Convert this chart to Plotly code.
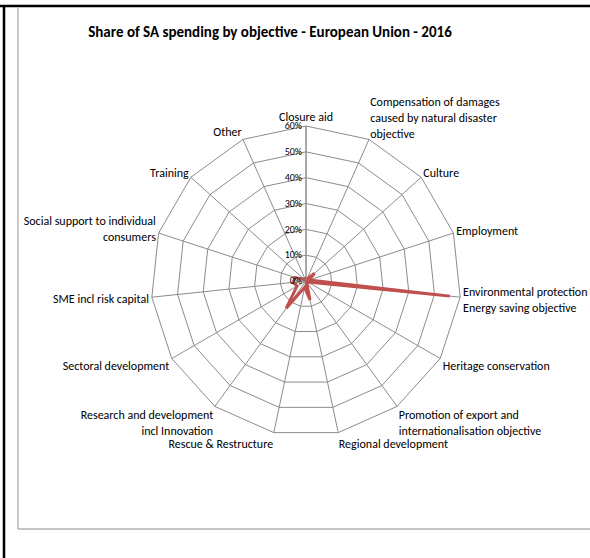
import plotly.graph_objects as go

categories = [
    "Closure aid",
    "Compensation of damages<br>caused by natural disaster<br>objective",
    "Culture",
    "Employment",
    "Environmental protection incl<br>Energy saving objective",
    "Heritage conservation",
    "Promotion of export and<br>internationalisation objective",
    "Regional development",
    "Rescue & Restructure",
    "Research and development<br>incl Innovation",
    "Sectoral development",
    "SME incl risk capital",
    "Social support to individual<br>consumers",
    "Training",
    "Other",
]
shares = [0.003, 0.008, 0.045, 0.012, 0.56, 0.008, 0.003, 0.075, 0.025, 0.13,
          0.04, 0.05, 0.045, 0.008, 0.015]
radial_ticks = [0, 0.1, 0.2, 0.3, 0.4, 0.5, 0.6]

FONT = "Calibri, Carlito, Lato, 'Liberation Sans Narrow', sans-serif"
W, H = 590, 558
cx, cy, R = 306, 281, 155

fig = go.Figure()
fig.add_trace(go.Scatterpolar(
    r=shares + shares[:1],
    theta=categories + categories[:1],
    mode="lines",
    line=dict(color="#C0504D", width=3),
    showlegend=False,
    hoverinfo="skip",
))

fig.update_layout(
    width=W, height=H,
    margin=dict(l=0, r=0, t=0, b=0),
    paper_bgcolor="white",
    font=dict(family=FONT, size=12, color="#000000"),
    title=dict(
        text="Share of SA spending by objective - European Union - 2016",
        x=270 / W, y=1 - 32 / H, xanchor="center", yanchor="middle",
        font=dict(family=FONT, size=15, color="#000000", weight="bold"),
    ),
    polar=dict(
        domain=dict(x=[(cx - R) / W, (cx + R) / W],
                    y=[(H - cy - R) / H, (H - cy + R) / H]),
        bgcolor="white",
        gridshape="linear",
        angularaxis=dict(
            direction="clockwise", rotation=90,
            showgrid=True, gridcolor="#8C8C8C", gridwidth=1,
            showline=True, linecolor="#8C8C8C", linewidth=1,
            ticks="", tickfont=dict(family=FONT, size=12, color="#000000"),
            categoryorder="array", categoryarray=categories,
        ),
        radialaxis=dict(
            range=[0, 0.6], tickvals=radial_ticks, tickformat=".0%",
            angle=90, tickangle=90, side="counterclockwise",
            showgrid=True, gridcolor="#8C8C8C", gridwidth=1,
            showline=True, linecolor="#8C8C8C", linewidth=1,
            ticks="", tickfont=dict(family=FONT, size=10, color="#000000"),
        ),
    ),
    shapes=[
        dict(type="line", xref="paper", yref="paper", x0=0, x1=1,
             y0=1 - 6 / H, y1=1 - 6 / H, line=dict(color="black", width=2.5)),
        dict(type="line", xref="paper", yref="paper", x0=4 / W, x1=4 / W,
             y0=0, y1=1 - 5 / H, line=dict(color="black", width=2.5)),
        dict(type="line", xref="paper", yref="paper", x0=18 / W, x1=18 / W,
             y0=1 - 529 / H, y1=1 - 8 / H, line=dict(color="#A6A6A6", width=1.2)),
        dict(type="line", xref="paper", yref="paper", x0=18 / W, x1=1,
             y0=1 - 529 / H, y1=1 - 529 / H, line=dict(color="#8C8C8C", width=1.2)),
    ],
)

fig.write_html(
    "out.html",
    config={"displayModeBar": False},
    post_script="document.body.style.margin='0';document.body.style.overflow='hidden';",
)
